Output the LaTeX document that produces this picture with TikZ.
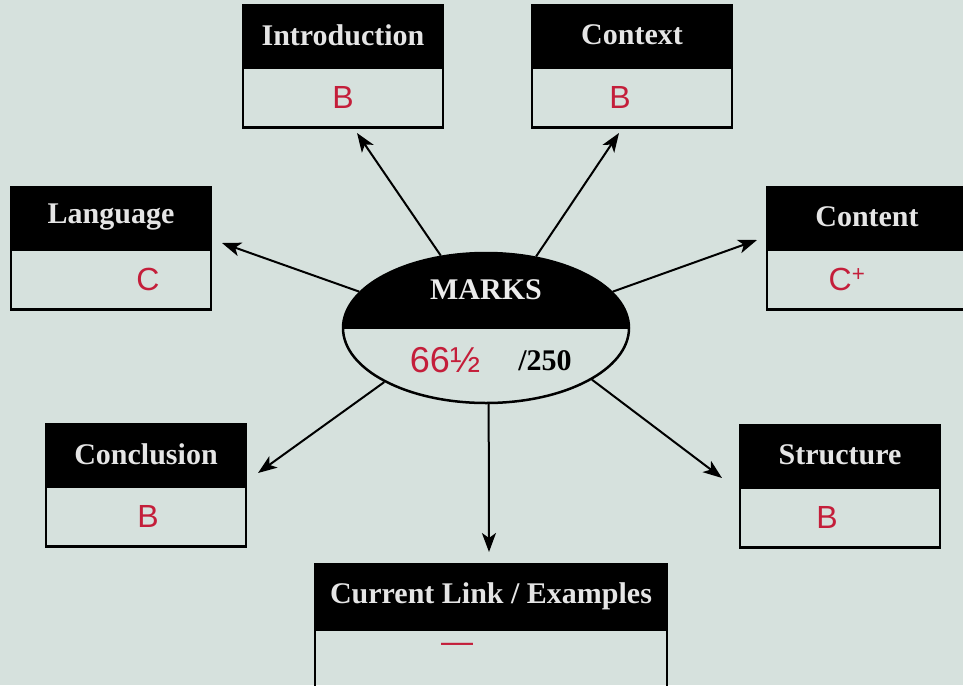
\documentclass[tikz,border=0pt]{standalone}
\usepackage{fontspec}
\setmainfont{Liberation Serif}
\newfontfamily\handfont{Liberation Sans}
\usepackage{tikz}
\usetikzlibrary{shapes.geometric,arrows.meta,positioning}
\definecolor{paper}{HTML}{D6E1DD}
\definecolor{pen}{HTML}{C41E3A}

\begin{document}
\begin{tikzpicture}[x=1pt,y=-1pt,
  every node/.style={font=\fontsize{30}{32}\selectfont\bfseries},
  head/.style={draw,line width=2.5pt,fill=black,text=white!90!black,minimum width=200pt,minimum height=60pt,inner sep=0pt},
  body/.style={draw,line width=2.5pt,minimum width=200pt,minimum height=60pt,inner sep=0pt},
  grade/.style={font=\handfont\fontsize{32}{34}\selectfont,text=pen},
  link/.style={-{Stealth[length=19pt,width=14pt,inset=5pt]},line width=2pt}]
\fill[paper] (0,0) rectangle (963,685);
\useasboundingbox (0,0) rectangle (963,685);

% the marks ellipse
\coordinate (mc) at (486,328);
\begin{scope}
  \clip (330,240) rectangle (640,328);
  \fill[black] (mc) ellipse [x radius=143pt, y radius=75pt];
\end{scope}
\node[draw,ellipse,line width=2.5pt,minimum width=286pt,minimum height=150pt,inner sep=0pt] (marks) at (mc) {};
\draw[line width=1.5pt] (marks.west) -- (marks.east);
\node[text=white!92!black] (marksT) at ([yshift=38pt]mc) {MARKS};
\node (total) at ([xshift=59pt,yshift=-33pt]mc) {/250};
\node[grade,font=\handfont\fontsize{36}{38}\selectfont] (score) at ([xshift=-41pt,yshift=-32pt]mc) {66½};

% the seven boxes
\node[head] (intro) at (343,35) {Introduction};
\node[body,below=0pt of intro] (introG) {};
\node[head] (context) at (632,35) {Context};
\node[body,below=0pt of context] (contextG) {};
\node[head] (lang) at (111,217) {Language};
\node[body,below=0pt of lang] (langG) {};
\node[head] (content) at (867,217) {Content};
\node[body,below=0pt of content] (contentG) {};
\node[head] (concl) at (146,454) {Conclusion};
\node[body,below=0pt of concl] (conclG) {};
\node[head] (struct) at (840,455) {Structure};
\node[body,below=0pt of struct] (structG) {};
\node[head,minimum width=352pt,minimum height=63pt] (current) at (491,596) {Current Link / Examples};
\node[body,below=0pt of current,minimum width=352pt] (currentG) {};

% handwritten grades
\node[grade] at (introG) {B};
\node[grade] at ([xshift=-12pt]contextG) {B};
\node[grade] at ([xshift=37pt]langG) {C};
\node[grade] at ([xshift=-20pt]contentG) {C\textsuperscript{+}};
\node[grade] at ([xshift=2pt]conclG) {B};
\node[grade] at ([xshift=-13pt]structG) {B};
\node[grade] at ([xshift=-34pt,yshift=12pt]currentG) {—};

% arrows
\coordinate (tIntro) at (357,133);
\coordinate (tContext) at (619,133);
\coordinate (tLang) at (222,243);
\coordinate (tContent) at (757,240);
\coordinate (tConcl) at (258,473);
\coordinate (tStruct) at (722,478);
\coordinate (tCurrent) at (489,552);
\draw[link] (marks.122) -- (tIntro);
\draw[link] (marks.55) -- (tContext);
\draw[link] (marks.164) -- (tLang);
\draw[link] (marks.16) -- (tContent);
\draw[link] (marks.208) -- (tConcl);
\draw[link] (marks.334) -- (tStruct);
\draw[link] (marks.272) -- (tCurrent);
\end{tikzpicture}
\end{document}
